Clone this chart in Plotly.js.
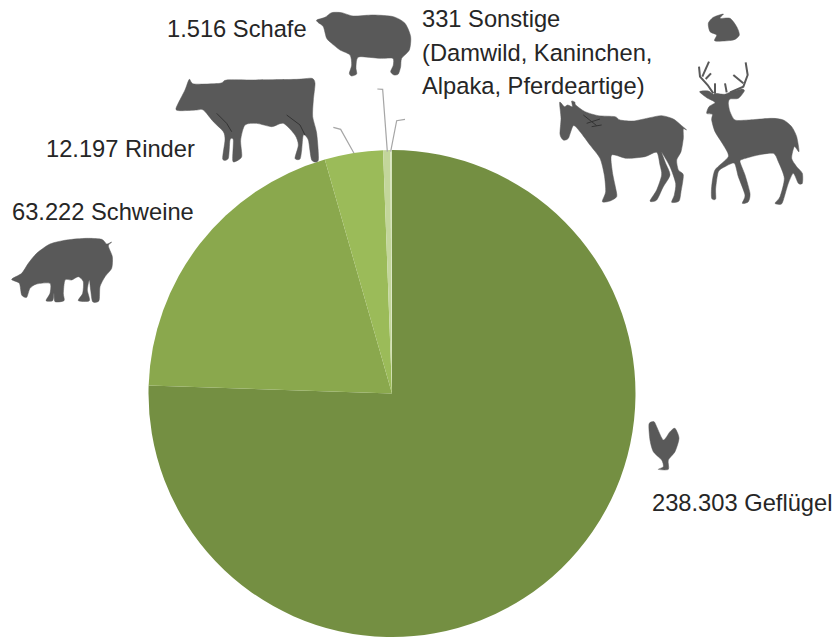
<!DOCTYPE html>
<html lang="de">
<head>
<meta charset="utf-8">
<script src="https://cdn.plot.ly/plotly-3.0.1.min.js"></script>
<style>html,body{margin:0;padding:0;background:#fff}#chart{width:835px;height:637px}</style>
</head>
<body>
<div id="chart"></div>
<script>
// Tierbestand nach Tierart
const categories = ['Geflügel', 'Schweine', 'Rinder', 'Schafe', 'Sonstige'];
const values = [238303, 63222, 12197, 1516, 331];
const sliceColors = ['#748F42', '#8AA84D', '#9BBB59', '#C3D69B', '#D7E4BD'];
const otherDetails = ['(Damwild, Kaninchen,', 'Alpaka, Pferdeartige)'];

const W = 835, H = 637;
const SILHOUETTE = '#595959';
const DETAIL = '#333333';
const LEADER = '#A6A6A6';
const fmt = v => v.toLocaleString('de-DE');

// Outlines are sketched at three times page scale around an origin, then converted to paper units.
const px = ([x, y]) => (x / W).toFixed(5) + ',' + (1 - y / H).toFixed(5);
const sketch = (pts, ox, oy) => pts.map(([x, y]) => [ox + x / 3, oy + y / 3]);

// Closed outline rounded with short Catmull-Rom handles so the animal contours stay soft.
function smoothClosed(pts) {
  const n = pts.length, k = 0.12;
  let d = 'M' + px(pts[0]);
  for (let i = 0; i < n; i++) {
    const p0 = pts[(i - 1 + n) % n], p1 = pts[i], p2 = pts[(i + 1) % n], p3 = pts[(i + 2) % n];
    const c1 = [p1[0] + (p2[0] - p0[0]) * k, p1[1] + (p2[1] - p0[1]) * k];
    const c2 = [p2[0] - (p3[0] - p1[0]) * k, p2[1] - (p3[1] - p1[1]) * k];
    d += 'C' + px(c1) + ' ' + px(c2) + ' ' + px(p2);
  }
  return d + 'Z';
}
const openPath = pts => 'M' + pts.map(px).join('L');

const sheep = sketch([[50,60],[75,52],[95,38],[125,38],[160,48],[220,45],[280,50],[315,70],[332,110],[328,150],[305,175],[302,200],[295,222],[282,225],[272,215],[280,195],[278,175],[240,175],[180,170],[170,180],[168,205],[170,222],[155,228],[148,220],[155,195],[150,165],[120,150],[95,130],[80,115],[70,80],[55,68]], 300, 0);
const cow = sketch([[528,145],[555,90],[568,58],[582,72],[660,70],[680,60],[760,60],[890,58],[935,55],[945,70],[940,120],[938,170],[950,220],[955,300],[935,300],[925,240],[910,225],[905,270],[900,297],[885,295],[895,255],[885,225],[850,190],[815,200],[770,190],[735,195],[722,240],[725,290],[705,305],[698,300],[700,240],[690,240],[685,295],[668,297],[675,240],[670,215],[640,185],[610,150],[590,150],[540,152]], 0, 60);
const pig = sketch([[35,658],[65,640],[85,610],[110,580],[150,552],[200,540],[260,535],[305,538],[320,552],[335,546],[325,558],[337,590],[335,625],[315,650],[300,680],[297,722],[278,725],[272,690],[268,660],[262,690],[268,722],[235,722],[248,700],[250,665],[235,650],[215,660],[195,660],[190,700],[192,722],[165,725],[162,700],[158,722],[138,722],[150,700],[150,670],[110,672],[90,685],[80,712],[65,705],[58,670]], 0, 60);
const horse = sketch([[14,22],[28,35],[38,30],[52,35],[50,18],[60,22],[62,30],[90,50],[130,62],[180,65],[195,75],[235,78],[285,68],[320,62],[355,72],[380,92],[395,105],[385,102],[385,130],[378,170],[365,195],[370,225],[385,240],[378,290],[372,318],[350,322],[358,300],[362,265],[345,215],[320,172],[332,205],[345,240],[325,275],[305,315],[285,318],[305,285],[320,240],[315,210],[305,172],[270,185],[215,190],[170,180],[172,230],[182,280],[185,305],[165,318],[142,320],[152,290],[148,240],[135,190],[105,150],[75,110],[55,92],[40,130],[25,135],[15,118],[18,70]], 555, 95);
const deer = sketch([[35,175],[42,155],[60,142],[35,128],[14,110],[40,108],[55,118],[60,115],[88,118],[105,112],[140,102],[148,108],[130,130],[105,132],[100,145],[105,170],[120,195],[160,195],[230,190],[265,195],[290,215],[305,245],[312,290],[298,275],[290,310],[305,335],[322,355],[322,385],[310,385],[295,355],[280,385],[265,435],[258,448],[240,445],[255,425],[268,370],[250,320],[235,295],[190,300],[145,312],[135,320],[150,360],[165,415],[160,440],[142,445],[150,420],[130,365],[118,325],[90,335],[70,350],[62,400],[62,432],[50,430],[50,395],[60,345],[100,305],[85,270],[60,230],[50,195],[52,178]], 695, 55);
const antlers = [
  [[55,115],[38,90],[15,65],[12,35]], [[22,65],[42,20]], [[32,72],[48,55]], [[60,115],[60,85]],
  [[95,112],[90,85]], [[105,112],[145,95],[158,60],[152,22]], [[145,85],[115,60]]
].map(a => sketch(a, 695, 55));
const rabbit = sketch([[475,70],[490,52],[520,42],[510,55],[540,55],[560,80],[568,105],[550,120],[495,123],[500,105],[480,95]], 550, 0);
const hen = sketch([[57,42],[72,35],[80,50],[100,90],[120,65],[135,55],[147,85],[135,125],[115,150],[115,178],[85,178],[100,170],[95,150],[70,125],[60,90]], 630, 410);

const cowCreases = [[[650,160],[680,190],[695,215]], [[860,165],[900,195],[915,225]]].map(l => sketch(l, 0, 60));
const horseMane = [[[85,60],[125,92]], [[95,85],[135,72]], [[110,95],[140,90]]].map(l => sketch(l, 555, 95));

const leaders = [
  [[100,382],[122,388],[162,460]],
  [[232,267],[248,268],[262,455]],
  [[315,358],[290,362],[272,455]]
].map(l => sketch(l, 300, 0));

const filled = p => ({type:'path', xref:'paper', yref:'paper', path:smoothClosed(p), fillcolor:SILHOUETTE, line:{color:SILHOUETTE, width:0.5}, layer:'above'});
const stroked = (p, color, width) => ({type:'path', xref:'paper', yref:'paper', path:openPath(p), line:{color, width}, layer:'above'});

const shapes = [
  ...[sheep, cow, pig, horse, deer, rabbit, hen].map(filled),
  ...antlers.map(a => stroked(a, SILHOUETTE, 2)),
  ...cowCreases.map(l => stroked(l, DETAIL, 1)),
  ...horseMane.map(l => stroked(l, DETAIL, 1)),
  ...leaders.map(l => stroked(l, LEADER, 1.2))
];

const textFont = {family:'"Liberation Sans", Arial, sans-serif', size:23.7, color:'#262626'};
const note = (text, x, y) => ({text, x:x / W, y:1 - y / H, xref:'paper', yref:'paper', xanchor:'left', yanchor:'middle', showarrow:false, font:textFont, borderpad:0});

const annotations = [
  note(fmt(values[0]) + ' ' + categories[0], 651, 503),
  note(fmt(values[1]) + ' ' + categories[1], 11, 212),
  note(fmt(values[2]) + ' ' + categories[2], 45, 149),
  note(fmt(values[3]) + ' ' + categories[3], 166, 29),
  note(fmt(values[4]) + ' ' + categories[4], 421, 19),
  note(otherDetails[0], 421, 53),
  note(otherDetails[1], 421, 86)
];

Plotly.newPlot('chart', [{
  type:'pie',
  labels:categories,
  values:values,
  sort:false,
  direction:'clockwise',
  rotation:0,
  textinfo:'none',
  hoverinfo:'label+value',
  showlegend:false,
  marker:{colors:sliceColors, line:{width:0}},
  domain:{x:[148 / W, 636 / W], y:[0, 1 - 150 / H]}
}], {
  width:W, height:H,
  margin:{l:0, r:0, t:0, b:0},
  paper_bgcolor:'#fff',
  showlegend:false,
  shapes, annotations
}, {displayModeBar:false, staticPlot:true});
</script>
</body>
</html>
